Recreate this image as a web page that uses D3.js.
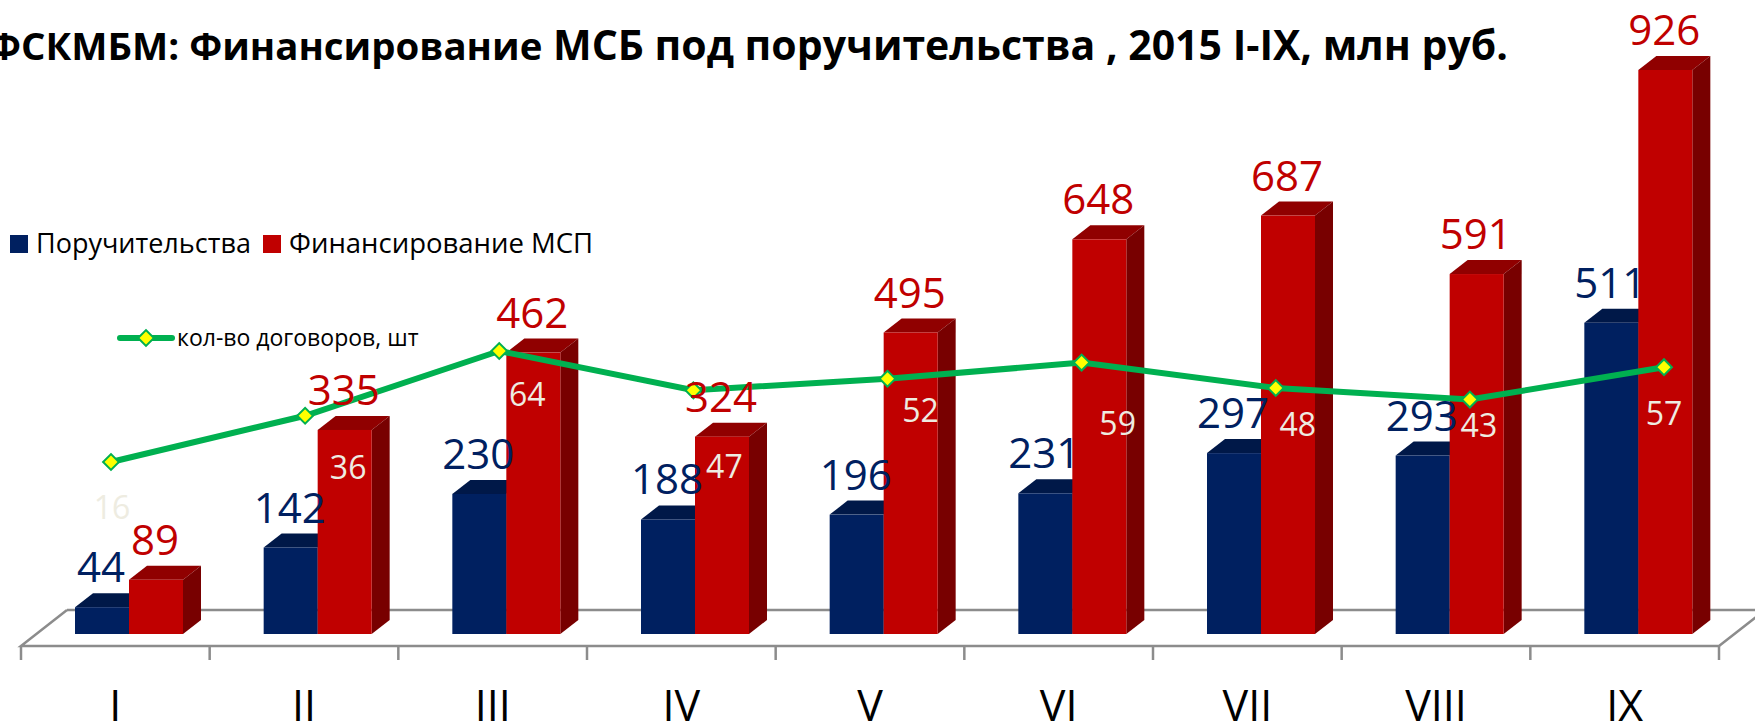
<!DOCTYPE html>
<html>
<head>
<meta charset="utf-8">
<script src="https://cdn.jsdelivr.net/npm/d3@7"></script>
<style>
  html, body { margin: 0; padding: 0; background: #fff; overflow: hidden; }
  text { font-family: "Open Sans", sans-serif; }
</style>
</head>
<body>
<div id="chart"></div>
<script>
const months = ["I", "II", "III", "IV", "V", "VI", "VII", "VIII", "IX"];
const guarantees = [44, 142, 230, 188, 196, 231, 297, 293, 511];
const financing = [89, 335, 462, 324, 495, 648, 687, 591, 926];
const contracts = [16, 36, 64, 47, 52, 59, 48, 43, 57];
// labels of the line were moved by hand in the original
const contractLabelDx = [1, 43, 28, 31, 33, 36, 22, 9, 0];
const contractLabelDy = [57, 63, 55, 88, 43, 72, 48, 37, 58];

const width = 1755;
const height = 723;
const barWidth = 54;
const depthX = 18;
const depthY = 14;
const floorDx = 46;
const floorDy = 36;
const baseY = 634;
const floorY = 646;

const svg = d3.select("#chart")
  .append("svg")
  .attr("width", width)
  .attr("height", height);

const x = d3.scaleBand().domain(months).range([21, 1719]);
const y = d3.scaleLinear().domain([0, 926]).range([baseY, 70]);
const xLine = d3.scalePoint().domain(months).range([111, 1664]);
const yLine = d3.scaleLinear().domain([0, 64]).range([499, 351]);

// floor
const floor = svg.append("g").attr("fill", "none").attr("stroke", "#8c8c8c").attr("stroke-width", 2.5);
floor.append("path")
  .attr("d", `M${x.range()[0] + floorDx},${floorY - floorDy}L${x.range()[0]},${floorY}H${x.range()[1]}L${x.range()[1] + floorDx},${floorY - floorDy}`);
floor.append("path")
  .attr("d", `M${x.range()[0] + floorDx},${floorY - floorDy}H${x.range()[1] + floorDx}`);
floor.selectAll(".tick-mark")
  .data([...months.map(d => x(d)), x.range()[1]])
  .enter()
  .append("line")
  .attr("x1", d => d)
  .attr("x2", d => d)
  .attr("y1", floorY)
  .attr("y2", floorY + 14);

// category labels
const axis = svg.append("g")
  .attr("transform", `translate(0,${floorY})`)
  .call(d3.axisBottom(x).tickSize(0).tickPadding(44));
axis.select(".domain").remove();
axis.selectAll("text")
  .attr("font-family", "Open Sans")
  .style("font-size", "43px")
  .attr("fill", "#000");

function drawBars(values, shift, front, top, side) {
  const g = svg.append("g");
  months.forEach((m, i) => {
    const x0 = x(m) + shift;
    const y0 = y(values[i]);
    g.append("path")
      .attr("fill", top)
      .attr("d", `M${x0},${y0}l${depthX},${-depthY}h${barWidth}l${-depthX},${depthY}z`);
    g.append("path")
      .attr("fill", side)
      .attr("d", `M${x0 + barWidth},${y0}l${depthX},${-depthY}V${baseY - depthY}l${-depthX},${depthY}z`);
    g.append("rect")
      .attr("fill", front)
      .attr("x", x0)
      .attr("y", y0)
      .attr("width", barWidth)
      .attr("height", baseY - y0);
  });
}

drawBars(guarantees, barWidth, "#002060", "#001848", "#001030");
drawBars(financing, barWidth * 2, "#c00000", "#900000", "#780000");

// line
const line = d3.line().x((d, i) => xLine(months[i])).y(d => yLine(d));
svg.append("path")
  .datum(contracts)
  .attr("fill", "none")
  .attr("stroke", "#00b050")
  .attr("stroke-width", 6)
  .attr("d", line);

const diamond = d3.symbol().type(d3.symbolSquare).size(125);
svg.selectAll(".marker")
  .data(contracts)
  .enter()
  .append("path")
  .attr("d", diamond)
  .attr("transform", (d, i) => `translate(${xLine(months[i])},${yLine(d)}) rotate(45)`)
  .attr("fill", "#ffff00")
  .attr("stroke", "#00b050")
  .attr("stroke-width", 2);

// value labels
function drawValues(values, shift, color) {
  svg.selectAll(null)
    .data(values)
    .enter()
    .append("text")
    .attr("x", (d, i) => x(months[i]) + shift + barWidth / 2 - 1)
    .attr("y", d => y(d) - 25)
    .attr("text-anchor", "middle")
    .attr("fill", color)
    .style("font-size", "42px")
    .text(d => d);
}
drawValues(guarantees, barWidth, "#002060");
drawValues(financing, barWidth * 2, "#c00000");

svg.selectAll(null)
  .data(contracts)
  .enter()
  .append("text")
  .attr("x", (d, i) => xLine(months[i]) + contractLabelDx[i])
  .attr("y", (d, i) => yLine(d) + contractLabelDy[i])
  .attr("text-anchor", "middle")
  .attr("fill", "#eeece1")
  .style("font-size", "32px")
  .text(d => d);

// title, first words are narrower in the original font
const title = svg.append("text")
  .attr("x", 1508)
  .attr("y", 60)
  .attr("text-anchor", "end")
  .attr("fill", "#000")
  .attr("font-weight", "bold")
  .style("font-size", "41px");
title.append("tspan").style("font-size", "38.4px").text("ФСКМБМ: Финансирование");
title.append("tspan").text(" МСБ под поручительства , 2015 I-IX, млн руб.");

// legend
const legendItems = [
  { name: "Поручительства", color: "#002060", box: 10, label: 36, size: "27px" },
  { name: "Финансирование МСП", color: "#c00000", box: 263, label: 289, size: "27.5px" }
];
legendItems.forEach(d => {
  svg.append("rect").attr("x", d.box).attr("y", 235).attr("width", 18).attr("height", 18).attr("fill", d.color);
  svg.append("text").attr("x", d.label).attr("y", 253).attr("fill", "#000").style("font-size", d.size).text(d.name);
});

svg.append("line")
  .attr("x1", 120).attr("x2", 172).attr("y1", 338).attr("y2", 338)
  .attr("stroke", "#00b050").attr("stroke-width", 6).attr("stroke-linecap", "round");
svg.append("path")
  .attr("d", diamond)
  .attr("transform", "translate(146,338) rotate(45)")
  .attr("fill", "#ffff00")
  .attr("stroke", "#00b050")
  .attr("stroke-width", 2);
svg.append("text")
  .attr("x", 177).attr("y", 346).attr("fill", "#000").style("font-size", "23px")
  .text("кол-во договоров, шт");
</script>
</body>
</html>
